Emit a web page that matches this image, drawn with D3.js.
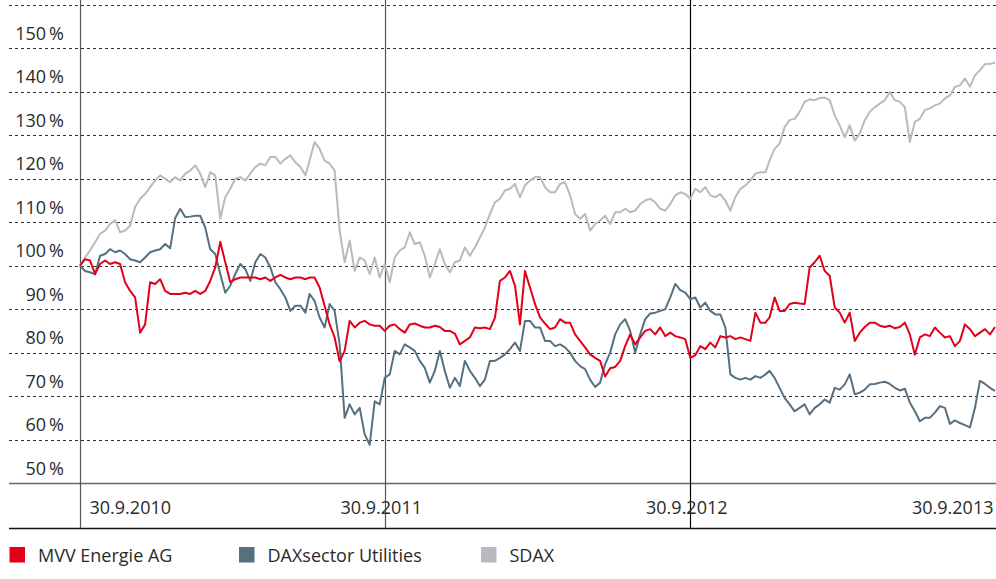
<!DOCTYPE html>
<html>
<head>
<meta charset="utf-8">
<script src="https://cdn.jsdelivr.net/npm/d3@7"></script>
<style>
  html, body { margin: 0; padding: 0; background: #fff; }
  svg { display: block; font-family: "Open Sans", sans-serif; }
  .label { font-size: 18px; fill: #2a2a2a; }
  .grid line { stroke: #333; stroke-dasharray: 3,3; }
</style>
</head>
<body>
<svg id="chart" width="996" height="579"></svg>
<script>
// sampling: one value every ~6 days from 30.9.2010 to 30.9.2013
const startDate = new Date(2010, 8, 30);
const endDate = new Date(2013, 8, 30);
const tickDates = [new Date(2010, 8, 30), new Date(2011, 8, 30), new Date(2012, 8, 30), new Date(2013, 8, 30)];
const yTicks = [50, 60, 70, 80, 90, 100, 110, 120, 130, 140, 150];
const gridValues = [60, 70, 80, 90, 100, 110, 120, 130, 140, 150, 160];

const mvv = [
  100, 101.5, 101.2, 98.1, 100.4, 101.2, 100.4, 100.8, 100.4, 96.2,
  94.2, 92.7, 84.6, 86.5, 96.2, 95.8, 96.9, 94.2, 93.5, 93.5,
  93.5, 93.8, 93.5, 94.2, 93.5, 94.2, 96.5, 99.6, 105.5, 100.8,
  96.2, 96.9, 97.3, 97.3, 97.3, 97.3, 96.9, 97.3, 96.5, 97.3,
  97.9, 97.3, 96.9, 97.3, 97.3, 96.9, 97.3, 97.3, 95, 90.8,
  86.5, 83.5, 78, 80.4, 87.3, 85.8, 86.9, 87.3, 86.5, 86.2,
  86.2, 85, 86.2, 86.5, 85.4, 84.6, 86.5, 86.7, 86.2, 85.8,
  85.8, 86.2, 85.9, 85, 85, 84.4, 81.9, 82.7, 83.5, 85.8,
  85.6, 85.8, 85.4, 88, 96.5, 97.3, 98.8, 95.4, 86.5, 98.8,
  95, 91.2, 88.1, 86.7, 85.4, 85.8, 87.7, 86.9, 86.9, 84.2,
  82.7, 81.2, 79.6, 78.8, 78.1, 74.5, 76.4, 76.7, 78.1, 81.5,
  84.2, 81.9, 83.5, 85, 85.4, 84.2, 85.8, 83.8, 84.6, 83.8,
  83.5, 83.1, 78.8, 79.4, 81.5, 80.8, 82.3, 81.2, 83.8, 83.5,
  83.8, 83.1, 83.5, 83.1, 82.7, 89.2, 86.9, 86.9, 88.1, 92.7,
  89.6, 89.6, 91.2, 91.5, 91.3, 91.2, 99.6, 100.8, 102.3, 98.8,
  97.7, 90.4, 89.2, 86.9, 89.2, 82.7, 84.6, 85.9, 86.9, 86.9,
  86.2, 85.9, 86.2, 85.6, 85.9, 86.9, 84.2, 79.5, 83.5, 84.2,
  83.8, 85.8, 84.6, 83.5, 83.8, 81.5, 82.7, 86.5, 85.4, 83.8,
  84.6, 85.4, 84.2, 85.9
];

const daxUtilities = [
  100, 98.8, 98.5, 98.0, 102.3, 102.7, 103.8, 103.1, 103.5, 102.7,
  101.5, 101.2, 100.8, 101.9, 103.1, 103.5, 103.8, 105, 104, 111,
  113.1, 111.2, 111.3, 111.5, 111.5, 108.8, 103.8, 102.7, 98.1, 93.8,
  95.4, 98.1, 100.4, 99.2, 96.5, 100.8, 102.7, 101.9, 99.6, 96.2,
  94.6, 92.7, 89.6, 90.8, 90.8, 89.2, 93.5, 91.9, 88.1, 85.8,
  91.2, 89.6, 81.9, 65, 68.1, 65.8, 67.3, 61.2, 58.8, 68.8,
  68.1, 74.2, 75, 80.4, 79.6, 81.9, 81.2, 80.4, 78.1, 76.5,
  73.1, 75.8, 80.4, 75.8, 71.9, 74.2, 72.3, 78.1, 75.8, 74.2,
  72.3, 73.8, 78.1, 78.1, 78.8, 79.6, 80.8, 82.3, 80.4, 87.3,
  87.3, 85.8, 85.8, 82.7, 82.7, 81.5, 81.9, 81.2, 80, 78.1,
  76.9, 76.2, 73.8, 72.1, 73.1, 77.3, 80, 84.2, 86.5, 87.7,
  85, 80, 84.2, 87.7, 89, 89.2, 89.6, 90, 92.7, 95.8,
  94.4, 93.8, 92.3, 92.7, 90.4, 91.5, 89.6, 88.8, 88.8, 85.8,
  75, 74.2, 73.8, 74.2, 73.8, 74.6, 74.2, 75, 75.8, 74.2,
  71.9, 69.6, 68.1, 66.5, 67.3, 68.1, 65.8, 67.3, 68.1, 69.2,
  68.5, 71.9, 71.5, 72.7, 75, 70.4, 70.8, 71.5, 72.7, 72.8,
  73.1, 73.3, 72.8, 71.9, 71.3, 71.7, 68.5, 66.5, 64.2, 65,
  65, 66.2, 67.7, 67.3, 63.6, 64.4, 63.8, 63.3, 62.8, 67.3,
  73.5, 72.8, 71.9, 71.2
];

const sdax = [
  100, 101.9, 103.5, 105.4, 107.3, 108.1, 109.6, 110.5, 107.7, 108.1,
  109.2, 113.5, 115.4, 116.5, 118.1, 119.6, 120.8, 120, 119.2, 120.4,
  119.6, 121.2, 121.9, 123.1, 121.2, 118.1, 121.5, 120.8, 110.8, 115.8,
  117.7, 120, 120.4, 119.6, 121.2, 122.7, 123.5, 123.1, 125, 125,
  123.5, 124.6, 125.4, 123.8, 122.7, 120.8, 124.2, 128.5, 126.9, 124.2,
  123.5, 121.9, 108.1, 100.8, 105.8, 98.8, 101.9, 101.2, 98.1, 101.9,
  97.3, 100.4, 96.2, 101.9, 103.5, 104.2, 107.7, 105, 105.4, 102.3,
  97.3, 100.4, 103.8, 100.4, 98.5, 100.8, 101.2, 104.2, 102.3, 104.2,
  106.5, 108.8, 111.9, 114.6, 115.4, 117.3, 117.7, 118.8, 115.8, 118.5,
  119.6, 120.4, 120.4, 118.1, 116.9, 116.9, 118.8, 119.2, 116.2, 111.9,
  110.8, 111.9, 108.1, 109.6, 110.4, 111.5, 109.6, 112.3, 112.3, 113.1,
  112.3, 112.7, 114.2, 115, 115.4, 114.6, 113.1, 112.7, 114.2, 116.2,
  116.9, 116.5, 115.4, 117.7, 116.9, 118.1, 116.2, 115.8, 116.5, 115,
  112.7, 115.8, 117.7, 118.5, 119.6, 121.2, 121.5, 121.5, 124.2, 126.9,
  128.1, 131.9, 133.5, 133.8, 135.4, 137.7, 138.3, 138.1, 138.6, 138.7,
  138.1, 134.6, 132.3, 129.6, 132.3, 128.8, 130.4, 133.5, 135.4, 136.5,
  137.3, 138.1, 140, 138.1, 137.7, 136.5, 128.5, 133.1, 133.8, 135.8,
  136.2, 136.9, 137.3, 138.5, 139.2, 141.2, 141.5, 143.1, 141.2, 143.8,
  145, 146.4, 146.5, 146.7
];

const seriesNames = ["MVV Energie AG", "DAXsector Utilities", "SDAX"];
const seriesColors = ["#e2001a", "#557180", "#b8babd"];

const totalDays = d3.timeDay.count(startDate, endDate);
const dates = mvv.map((d, i) => d3.timeDay.offset(startDate, Math.round(i * totalDays / (mvv.length - 1))));

const svg = d3.select("#chart");
const left = 9, right = 996;

const x = d3.scaleTime().domain([startDate, endDate]).range([80, 995]);
const y = d3.scaleLinear().domain([50, 160]).range([483, 5]);

// dashed grid
svg.append("g").attr("class", "grid")
  .selectAll("line").data(gridValues).join("line")
    .attr("x1", left).attr("x2", right)
    .attr("y1", d => Math.round(y(d)) + 0.5).attr("y2", d => Math.round(y(d)) + 0.5);

// base line and bottom rule
svg.append("line").attr("x1", left).attr("x2", right)
  .attr("y1", Math.round(y(50)) + 0.5).attr("y2", Math.round(y(50)) + 0.5)
  .attr("stroke", "#666").attr("stroke-width", 1.3);
svg.append("line").attr("x1", left).attr("x2", right)
  .attr("y1", 528.5).attr("y2", 528.5)
  .attr("stroke", "#111").attr("stroke-width", 1.3);

// year separators
svg.append("g").selectAll("line").data(tickDates.slice(0, 3)).join("line")
  .attr("x1", d => Math.round(x(d)) + 0.5).attr("x2", d => Math.round(x(d)) + 0.5)
  .attr("y1", 0).attr("y2", 528)
  .attr("stroke", (d, i) => i === 2 ? "#000" : "#555")
  .attr("stroke-width", 1.2);

// y axis labels
const yAxis = svg.append("g").attr("transform", "translate(64,0)")
  .call(d3.axisLeft(y).tickValues(yTicks).tickSize(0).tickPadding(0)
    .tickFormat(d => d + "\u2009%"));
yAxis.select(".domain").remove();
yAxis.selectAll("text").attr("class", "label").attr("dy", -9)
  .style("font-family", null).style("font-size", null);
yAxis.attr("font-family", null).attr("font-size", null);

// x axis labels
const fmt = d3.timeFormat("%-d.%-m.%Y");
const xAxis = svg.append("g").attr("transform", "translate(0,0)")
  .call(d3.axisBottom(x).tickValues(tickDates).tickSize(0).tickFormat(fmt));
xAxis.select(".domain").remove();
xAxis.attr("font-family", null).attr("font-size", null);
xAxis.selectAll("text").attr("class", "label")
  .attr("y", 513.5).attr("dy", 0)
  .attr("text-anchor", (d, i) => i === 0 ? "start" : (i === tickDates.length - 1 ? "end" : "middle"))
  .attr("dx", (d, i) => i === 0 ? 9 : (i === tickDates.length - 1 ? -2 : -4));

// lines (SDAX below, MVV on top)
const line = d3.line().x((d, i) => x(dates[i])).y(d => y(d));
const seriesData = [mvv, daxUtilities, sdax];
svg.append("g").selectAll("path").data([2, 1, 0]).join("path")
  .attr("d", k => line(seriesData[k]))
  .attr("fill", "none")
  .attr("stroke", k => seriesColors[k])
  .attr("stroke-width", 2)
  .attr("stroke-linejoin", "round");

// legend
const legendX = [9.5, 239, 481];
const legend = svg.append("g").selectAll("g").data(seriesNames).join("g")
  .attr("transform", (d, i) => "translate(" + legendX[i] + ",547)");
legend.append("rect").attr("width", 15.5).attr("height", 15.5)
  .attr("fill", (d, i) => seriesColors[i]);
legend.append("text").attr("class", "label").attr("x", 28.5).attr("y", 15)
  .text(d => d);
</script>
</body>
</html>
